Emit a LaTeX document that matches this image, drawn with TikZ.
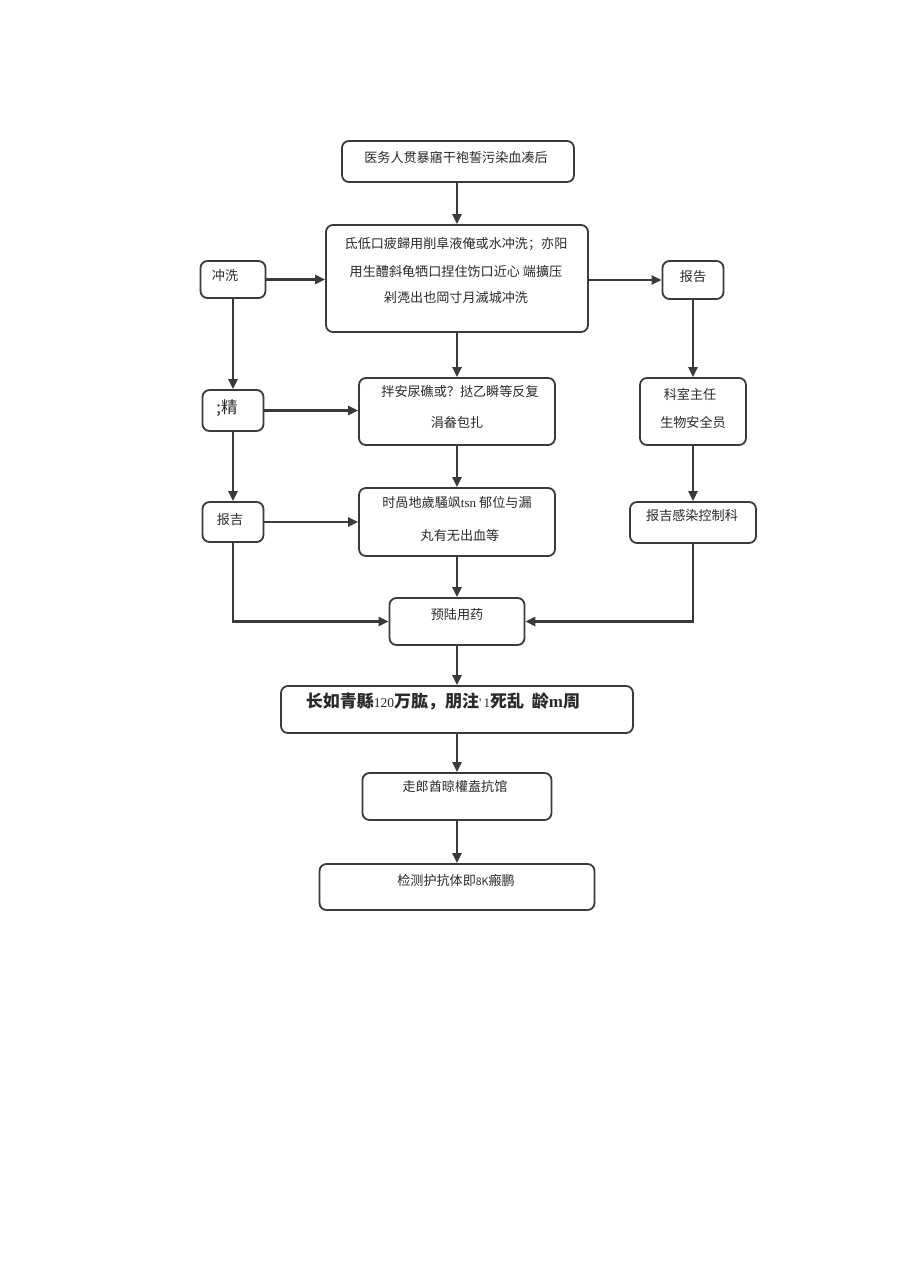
\documentclass[tikz,border=0pt]{standalone}
\usepackage{fontspec}
\setmainfont{Noto Sans CJK SC}
\newfontfamily\cjk{Noto Sans CJK SC}
\newfontfamily\lat{Liberation Serif}
\usetikzlibrary{arrows.meta}
\definecolor{ln}{HTML}{3A3A3A}
\definecolor{tx}{HTML}{2A2A2A}
\tikzset{
  box/.style={draw=ln, line width=1.8pt, rounded corners=7pt, inner sep=0pt, fill=white},
  lbl/.style={text=tx, font=\cjk\fontsize{13.1}{15}\selectfont, inner sep=0pt, anchor=center},
  arr/.style={draw=ln, line width=2.2pt, -{Triangle[length=10pt,width=9pt]}},
}
\begin{document}
\begin{tikzpicture}[x=1pt,y=-1pt]
\useasboundingbox[fill=white] (0,0) rectangle (920,1276);
% boxes
\node[box, minimum width=232pt, minimum height=41pt] (b1) at (458,161.5) {};
\node[box, minimum width=262pt, minimum height=107pt] (b2) at (457,278.5) {};
\node[box, minimum width=65pt, minimum height=37pt] (cx) at (233,279.5) {};
\node[box, minimum width=61pt, minimum height=38pt] (bg) at (693,280) {};
\node[box, minimum width=61pt, minimum height=41pt] (jing) at (233,410.5) {};
\node[box, minimum width=196pt, minimum height=67pt] (bz) at (457,411.5) {};
\node[box, minimum width=106pt, minimum height=67pt] (ks) at (693,411.5) {};
\node[box, minimum width=61pt, minimum height=40pt] (bj) at (233,522) {};
\node[box, minimum width=196pt, minimum height=68pt] (sj) at (457,522) {};
\node[box, minimum width=126pt, minimum height=41pt] (gk) at (693,522.5) {};
\node[box, minimum width=135pt, minimum height=47pt] (yy) at (457,621.5) {};
\node[box, minimum width=352pt, minimum height=47pt] (cr) at (457,709.5) {};
\node[box, minimum width=189pt, minimum height=47pt] (zl) at (457,796.5) {};
\node[box, minimum width=275pt, minimum height=46pt] (jc) at (457,887) {};
% texts
\node[lbl] (t1) at (456,157) {医务人贯暴寤干袍誓污染血凑后};
\node[lbl] (t2a) at (456,244) {氐低口疲歸用削阜液俺或水冲洗；亦阳};
\node[lbl] (t2b) at (456,271) {用生醴斜龟牺口捏住饬口近心\ 端擴压};
\node[lbl] (t2c) at (456,298) {剁凴出也岡寸月滅城冲洗};
\node[lbl] (tcx) at (225,276) {冲洗};
\node[lbl] (tbg) at (693,277) {报告};
\node[lbl, font=\cjk\fontsize{16.5}{18}\selectfont] (tj) at (227,408) {;精};
\node[lbl] (tbza) at (460,392) {拌安尿礁或？挞乙瞬等反复};
\node[lbl] (tbzb) at (457,422) {涓畚包扎};
\node[lbl] (tksa) at (690,394) {科室主任};
\node[lbl] (tksb) at (693,422) {生物安全员};
\node[lbl] (tbj) at (230,520) {报吉};
\node[lbl] (tsja) at (457,502) {时咼地歲騒飒{\lat tsn} 郁位与漏};
\node[lbl] (tsjb) at (460,535) {丸有无出血等};
\node[lbl] (tgk) at (692,516) {报吉感染控制科};
\node[lbl] (tyy) at (457,615) {预陆用药};
\node[lbl, font=\cjk\bfseries\fontsize{17}{19}\selectfont] (tcr) at (443,701) {长如青縣{\lat\mdseries\fontsize{13.5}{15}\selectfont 120}万肱，朋注{\lat\mdseries\fontsize{13}{15}\selectfont '\,1}死乱\ \ 龄{\lat m}周};
\node[lbl] (tzl) at (455,787) {走郎酋晾權盍抗馆};
\node[lbl] (tjc) at (456,880) {检测护抗体即{\fontsize{10.5}{12}\selectfont 8K}瘢鹏};
% connectors
\draw[arr] (b1.south -| b2.north) -- (b2.north);
\draw[arr] (cx.east) -- (cx.east -| b2.west);
\draw[arr] (b2.east |- bg.west) -- (bg.west);
\draw[arr] (cx.south) -- (jing.north);
\draw[arr] (jing.east) -- (jing.east -| bz.west);
\draw[arr] (b2.south) -- (bz.north);
\draw[arr] (bg.south) -- (ks.north);
\draw[arr] (jing.south) -- (bj.north);
\draw[arr] (bj.east) -- (bj.east -| sj.west);
\draw[arr] (bz.south) -- (sj.north);
\draw[arr] (ks.south) -- (gk.north);
\draw[arr] (sj.south) -- (yy.north);
\draw[arr] (bj.south) -- (bj.south |- yy.west) -- (yy.west);
\draw[arr] (gk.south) -- (gk.south |- yy.east) -- (yy.east);
\draw[arr] (yy.south) -- (cr.north);
\draw[arr] (cr.south) -- (zl.north);
\draw[arr] (zl.south) -- (jc.north);
\end{tikzpicture}
\end{document}
